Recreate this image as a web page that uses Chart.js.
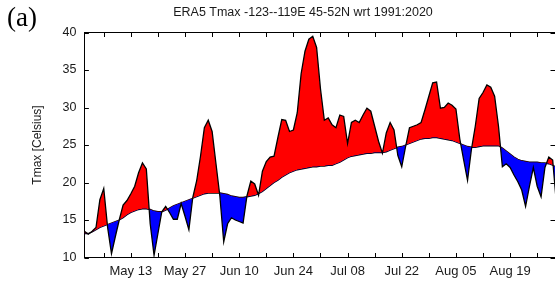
<!DOCTYPE html>
<html>
<head>
<meta charset="utf-8">
<script src="https://cdn.jsdelivr.net/npm/chart.js@4"></script>
<style>
  html, body { margin: 0; padding: 0; background: #fff; }
  #wrap { width: 555px; height: 282px; }
</style>
</head>
<body>
<div id="wrap"><canvas id="chart" width="555" height="282"></canvas></div>
<script>
// day 0 = May 1
const tmax = [
  13.5, 13.1, 13.5, 14.0, 17.7, 19.2, 14.0, 10.5, 12.8, 15.0,
  17.0, 17.6, 18.5, 19.5, 21.3, 22.6, 21.8, 14.5, 10.3, 13.2,
  16.1, 16.8, 16.0, 15.1, 15.1, 17.2, 15.5, 13.7, 18.0, 20.2,
  23.5, 27.3, 28.3, 26.8, 22.5, 18.2, 12.1, 14.5, 15.3, 15.0,
  14.8, 14.6, 18.2, 20.2, 19.8, 18.3, 21.5, 22.8, 23.4, 23.5,
  26.0, 28.4, 28.3, 26.8, 27.0, 29.3, 34.5, 37.5, 39.1, 39.5,
  38.0, 32.5, 28.3, 28.6, 27.7, 27.3, 29.0, 28.8, 25.2, 28.0,
  28.3, 28.0, 29.0, 29.9, 29.5, 27.5, 25.5, 23.9, 26.6, 28.0,
  27.0, 23.6, 22.1, 24.8, 27.3, 27.5, 27.7, 28.0, 29.7, 31.5,
  33.3, 33.4, 29.9, 30.0, 30.6, 30.3, 29.8, 25.8, 23.0, 20.3,
  24.4, 27.5, 31.2, 32.0, 33.0, 32.7, 31.5, 27.5, 22.1, 22.5,
  22.0, 21.0, 20.1, 19.0, 16.8, 19.5, 22.0, 19.5, 18.1, 22.0,
  23.4, 23.0, 17.0
];

const clim = [
  13.2, 13.2, 13.4, 13.7, 14.0, 14.2, 14.4, 14.6, 14.8, 15.0,
  15.3, 15.7, 16.0, 16.2, 16.4, 16.5, 16.5, 16.4, 16.2, 16.1,
  16.1, 16.3, 16.6, 16.9, 17.1, 17.3, 17.5, 17.7, 17.9, 18.1,
  18.3, 18.5, 18.6, 18.6, 18.6, 18.6, 18.5, 18.4, 18.2, 18.1,
  18.0, 18.0, 18.1, 18.2, 18.3, 18.5, 18.8, 19.2, 19.6, 20.0,
  20.3, 20.7, 21.0, 21.3, 21.5, 21.7, 21.8, 21.9, 22.0, 22.1,
  22.1, 22.2, 22.2, 22.3, 22.3, 22.5, 22.7, 23.0, 23.3, 23.5,
  23.6, 23.7, 23.8, 23.9, 23.9, 24.0, 24.0, 24.0, 24.1, 24.3,
  24.5, 24.7, 24.8, 25.0, 25.2, 25.4, 25.6, 25.8, 25.9, 25.9,
  26.0, 26.0, 25.9, 25.8, 25.7, 25.6, 25.4, 25.2, 25.0, 24.8,
  24.7, 24.7, 24.8, 24.9, 24.9, 24.9, 24.9, 24.9, 24.6, 24.2,
  23.8, 23.4, 23.1, 22.9, 22.8, 22.7, 22.7, 22.7, 22.6, 22.6,
  22.5, 22.3, 22.0
];

const labelDays = [12, 26, 40, 54, 68, 82, 96, 110];
const tickLabels = ['May 13', 'May 27', 'Jun 10', 'Jun 24', 'Jul 08', 'Jul 22', 'Aug 05', 'Aug 19'];
const yTicks = [10, 15, 20, 25, 30, 35, 40];

const titleText = 'ERA5 Tmax -123--119E 45-52N wrt 1991:2020';
const yTitle = 'Tmax [Celsius]';
const panelLabel = '(a)';

const sans = '"Liberation Sans", Arial, sans-serif';
const textColor = '#1a1a1a';

// frame, inward tick marks and the texts
const decorations = {
    id: 'decorations',
    afterDraw(chart) {
        const ctx = chart.ctx;
        const area = chart.chartArea;
        const x = chart.scales.x;
        const y = chart.scales.y;
        const len = 4.5;

        ctx.save();
        ctx.strokeStyle = '#000';
        ctx.lineWidth = 1;
        ctx.beginPath();
        ctx.moveTo(area.left, area.top);
        ctx.lineTo(area.right, area.top);
        x.ticks.forEach(t => {
            const px = Math.round(x.getPixelForValue(t.value)) + 0.5;
            ctx.moveTo(px, area.bottom);
            ctx.lineTo(px, area.bottom - len);
            ctx.moveTo(px, area.top);
            ctx.lineTo(px, area.top + len);
        });
        yTicks.forEach(v => {
            const py = Math.round(y.getPixelForValue(v)) + 0.5;
            ctx.moveTo(area.left, py);
            ctx.lineTo(area.left + len, py);
            ctx.moveTo(area.right, py);
            ctx.lineTo(area.right - len, py);
        });
        ctx.stroke();

        ctx.fillStyle = textColor;
        ctx.font = '12.5px ' + sans;
        ctx.textAlign = 'center';
        ctx.textBaseline = 'middle';
        ctx.fillText(titleText, 303, 13);

        ctx.save();
        ctx.translate(38, (area.top + area.bottom) / 2);
        ctx.rotate(-Math.PI / 2);
        ctx.font = '12px ' + sans;
        ctx.fillText(yTitle, 0, 0);
        ctx.restore();

        ctx.fillStyle = '#000';
        ctx.font = '27px "Liberation Serif", "DejaVu Serif", serif';
        ctx.textAlign = 'left';
        ctx.textBaseline = 'alphabetic';
        ctx.fillText(panelLabel, 7, 26);
        ctx.restore();
    }
};

const ctx = document.getElementById('chart').getContext('2d');
new Chart(ctx, {
    type: 'line',
    data: {
        datasets: [{
            label: 'Tmax',
            data: tmax.map((v, i) => ({ x: i, y: v })),
            borderColor: '#000',
            borderWidth: 1.3,
            pointRadius: 0,
            tension: 0,
            fill: { target: 1, above: 'rgb(255,0,0)', below: 'rgb(0,0,255)' }
        }, {
            label: 'Climatology',
            data: clim.map((v, i) => ({ x: i, y: v })),
            borderColor: '#000',
            borderWidth: 1.3,
            pointRadius: 0,
            tension: 0,
            fill: false
        }]
    },
    options: {
        responsive: false,
        animation: false,
        layout: { padding: { top: 32.5, right: 0, bottom: 0, left: 0 } },
        plugins: {
            legend: { display: false },
            tooltip: { enabled: false }
        },
        scales: {
            x: {
                type: 'linear',
                min: 0,
                max: 121.6,
                grid: { display: false, drawTicks: false },
                border: { display: true, color: '#000', width: 1 },
                afterBuildTicks: scale => {
                    const ticks = [];
                    for (let d = 5; d <= 121; d += 7) ticks.push({ value: d });
                    scale.ticks = ticks;
                },
                afterFit: scale => { scale.height = 24.5; },
                ticks: {
                    autoSkip: false,
                    maxRotation: 0,
                    padding: 6,
                    color: textColor,
                    font: { family: sans, size: 13 },
                    callback: v => {
                        const i = labelDays.indexOf(v);
                        return i >= 0 ? tickLabels[i] : '';
                    }
                }
            },
            y: {
                min: 10,
                max: 40,
                grid: { display: false, drawTicks: false },
                border: { display: true, color: '#000', width: 1 },
                afterFit: scale => { scale.width = 84.4; },
                ticks: {
                    stepSize: 5,
                    padding: 8,
                    color: textColor,
                    font: { family: sans, size: 12.5 }
                }
            }
        }
    },
    plugins: [decorations]
});
</script>
</body>
</html>
